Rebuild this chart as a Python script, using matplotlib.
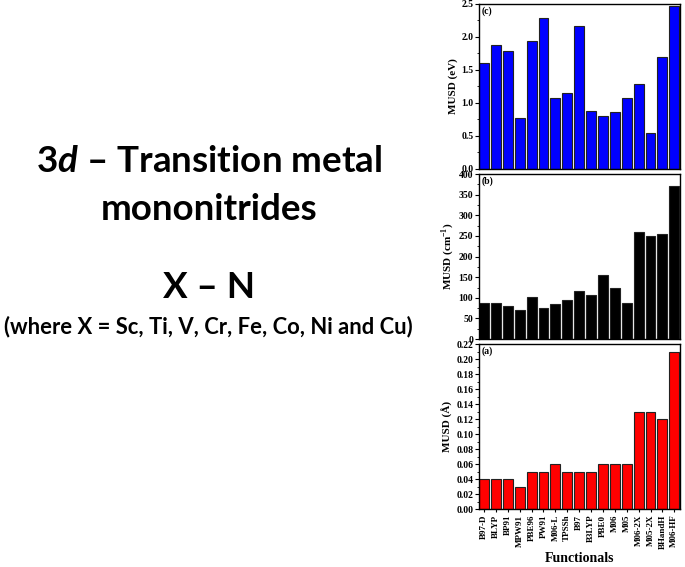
import matplotlib

matplotlib.use("Agg")
import matplotlib.pyplot as plt
from matplotlib.ticker import AutoMinorLocator, FormatStrFormatter, MultipleLocator

functionals = ["B97-D", "BLYP", "BP91", "MPW91", "PBE96", "PW91", "M06-L", "TPSSh", "B97",
               "B3LYP", "PBE0", "M06", "M05", "M06-2X", "M05-2X", "BHandH", "M06-HF"]
musd_ev = [1.60, 1.88, 1.79, 0.77, 1.94, 2.28, 1.07, 1.15, 2.16,
           0.88, 0.81, 0.87, 1.07, 1.29, 0.54, 1.69, 2.47]
musd_cm = [88, 88, 80, 71, 101, 76, 85, 94, 116,
           107, 155, 124, 88, 259, 250, 255, 370]
musd_ang = [0.04, 0.04, 0.04, 0.03, 0.05, 0.05, 0.06, 0.05, 0.05,
            0.05, 0.06, 0.06, 0.06, 0.13, 0.13, 0.12, 0.21]

serif = "Liberation Serif"
plt.rcParams["mathtext.fontset"] = "custom"
plt.rcParams["mathtext.bf"] = "Liberation Serif:bold"
plt.rcParams["mathtext.it"] = "Lato:italic:bold"
plt.rcParams["mathtext.rm"] = "Lato:bold"

fig = plt.figure(figsize=(6.85, 5.67), dpi=100)

panels = [
    (musd_ev, "#0000ff", "MUSD (eV)", "(c)", (0, 2.5), 0.5, "%.1f", 0.702),
    (musd_cm, "#000000", "MUSD (cm$^{\\mathbf{-1}}$)", "(b)", (0, 400), 50, "%d", 0.402),
    (musd_ang, "#ff0000", "MUSD (\u00c5)", "(a)", (0, 0.22), 0.02, "%.2f", 0.102),
]
x = list(range(len(functionals)))
for values, color, ylabel, tag, ylim, step, fmt, bottom in panels:
    ax = fig.add_axes([0.699, bottom, 0.293, 0.291])
    ax.bar(x, values, width=0.83, color=color, edgecolor="#222222", linewidth=0.8)
    ax.set_xlim(-0.44, len(functionals) - 0.56)
    ax.set_ylim(*ylim)
    ax.yaxis.set_major_locator(MultipleLocator(step))
    ax.yaxis.set_minor_locator(AutoMinorLocator(2))
    ax.yaxis.set_major_formatter(FormatStrFormatter(fmt))
    ax.tick_params(axis="y", direction="out", length=3, width=0.8, labelsize=7, pad=1)
    ax.tick_params(axis="y", which="minor", direction="out", length=1.8, width=0.6)
    for lab in ax.get_yticklabels():
        lab.set_fontfamily(serif)
        lab.set_fontweight("bold")
    ax.set_ylabel(ylabel, fontfamily=serif, fontweight="bold", fontsize=8, labelpad=2)
    ax.text(0.015, 0.985, tag, transform=ax.transAxes, ha="left", va="top",
            fontfamily=serif, fontweight="bold", fontsize=7)
    for side in ax.spines.values():
        side.set_linewidth(1.0)
    if tag == "(a)":
        ax.set_xticks(x)
        ax.set_xticklabels(functionals, rotation=90, fontfamily=serif, fontweight="bold", fontsize=6.5)
        ax.tick_params(axis="x", length=2, pad=2)
        ax.set_xlabel("Functionals", fontfamily=serif, fontweight="bold", fontsize=10, labelpad=2)
    else:
        ax.set_xticks([])

txt = dict(ha="center", va="center", fontfamily="Lato", fontweight="bold", color="black")
fig.text(0.305, 1 - 162 / 567, "3$\\mathit{d}$ \u2013 Transition metal", fontsize=26.5, **txt)
fig.text(0.305, 1 - 210 / 567, "mononitrides", fontsize=26.5, **txt)
fig.text(0.305, 1 - 287 / 567, "X \u2013 N", fontsize=26.5, **txt)
fig.text(0.304, 1 - 327 / 567, "(where X = Sc, Ti, V, Cr, Fe, Co, Ni and Cu)", fontsize=15.8, **txt)

fig.savefig("out.png", dpi=100)
